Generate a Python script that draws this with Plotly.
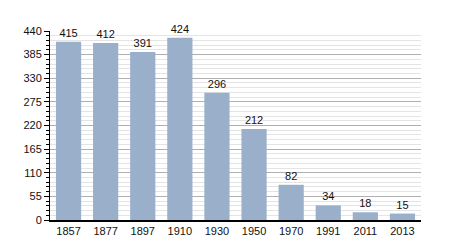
import plotly.graph_objects as go

years = ["1857", "1877", "1897", "1910", "1930", "1950", "1970", "1991", "2011", "2013"]
population = [415, 412, 391, 424, 296, 212, 82, 34, 18, 15]
y_ticks = [0, 55, 110, 165, 220, 275, 330, 385, 440]

fig = go.Figure(go.Bar(
    x=years, y=population, text=[str(v) for v in population],
    textposition="outside", cliponaxis=False,
    marker=dict(color="#9ab0ca", line=dict(width=0)),
    textfont=dict(size=11, color="#111"),
    width=0.68,
))
fig.update_layout(
    width=450, height=250,
    margin=dict(l=50, r=29, t=31, b=30),
    paper_bgcolor="white", plot_bgcolor="white",
    font=dict(family="Liberation Sans, Arial, sans-serif", size=11, color="#111"),
    showlegend=False, bargap=0.32,
)
fig.update_xaxes(showline=True, linecolor="black", linewidth=1.5, ticks="", showgrid=False,
                 tickfont=dict(size=11))
fig.update_yaxes(range=[0, 440], tickvals=y_ticks, showline=True, linecolor="black", linewidth=1,
                 ticks="outside", ticklen=5, tickcolor="black", showgrid=True, gridcolor="#b0b0b0",
                 gridwidth=1, zeroline=False,
                 minor=dict(dtick=11, tick0=0, showgrid=True, gridcolor="#e4e4e4", ticks="outside",
                            ticklen=3, tickcolor="black"))
fig.write_html("out.html")
